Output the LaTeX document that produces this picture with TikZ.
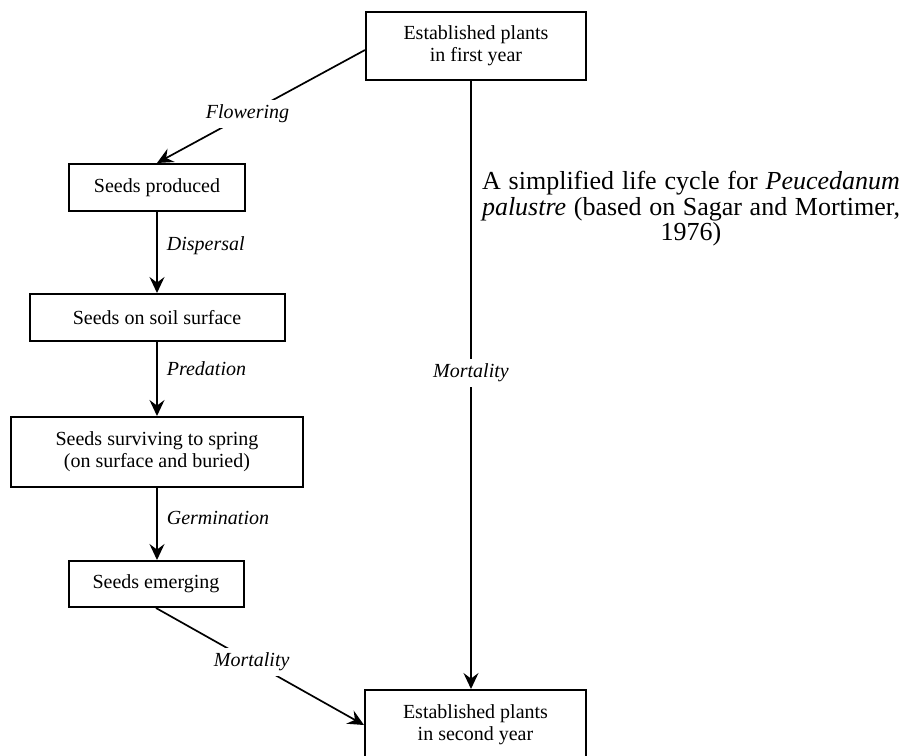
\documentclass[tikz,border=0pt]{standalone}
\usepackage{fontspec}
\setmainfont{Liberation Serif}
\usetikzlibrary{arrows.meta}
\begin{document}
\begin{tikzpicture}[x=0.5pt,y=-0.5pt,
  box/.style={draw, line width=1pt, inner sep=0pt, align=center,
    font=\fontsize{10}{11}\selectfont},
  arr/.style={line width=0.85pt, -{Stealth[length=8pt,width=7.5pt,inset=2.8pt]}},
  lab/.style={font=\fontsize{10}{11}\selectfont\itshape, inner sep=2.5pt},
  gaplab/.style={lab, fill=white}]
\useasboundingbox (0,0) rectangle (901,756);
\node[box, minimum width=110pt, minimum height=34pt] (top) at (476,46) {Established plants\\in first year};
\node[box, minimum width=88pt, minimum height=23.5pt] (sp) at (157,187.5) {Seeds produced};
\node[box, minimum width=127.5pt, minimum height=23.5pt] (ss) at (157,317.5) {Seeds on soil surface};
\node[box, minimum width=146pt, minimum height=35pt] (sv) at (157,452) {Seeds surviving to spring\\(on surface and buried)};
\node[box, minimum width=87.5pt, minimum height=23pt] (se) at (156,584) {Seeds emerging};
\node[box, minimum width=110.5pt, minimum height=35pt] (bot) at (475.5,725) {Established plants\\in second year};
\node[font=\fontsize{13}{12.8}\selectfont, align=center, inner sep=0pt] (cap) at (691,209)
  {\makebox[209pt][s]{A simplified life cycle for \textit{Peucedanum}}\\
   \makebox[209pt][s]{\textit{palustre} (based on Sagar and Mortimer,}\\1976)};
\draw[arr] ([yshift=-2pt]top.west) -- node[gaplab, pos=0.565] {Flowering} (sp.north);
\draw[arr] (sp.south) -- node[lab, pos=0.42, anchor=west, xshift=2pt] {Dispersal} (sp.south |- ss.north);
\draw[arr] (ss.south) -- node[lab, pos=0.36, anchor=west, xshift=2pt] {Predation} (ss.south |- sv.north);
\draw[arr] (sv.south) -- node[lab, pos=0.42, anchor=west, xshift=2pt] {Germination} (sv.south |- se.north);
\draw[arr] (se.south) -- node[gaplab, pos=0.46] {Mortality} (bot.west);
\draw[arr] ([xshift=-2.5pt]top.south) -- node[gaplab, pos=0.48] {Mortality} ([xshift=-2.5pt]top.south |- bot.north);
\end{tikzpicture}
\end{document}
